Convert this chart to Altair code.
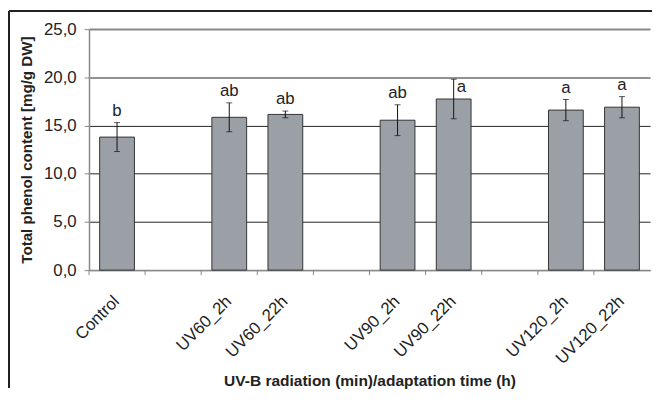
import altair as alt
import pandas as pd

categories = ["Control", " ", "UV60_2h", "UV60_22h", "  ", "UV90_2h", "UV90_22h", "   ", "UV120_2h", "UV120_22h"]
means = [13.8, None, 15.85, 16.15, None, 15.55, 17.75, None, 16.6, 16.9]
errors = [1.5, None, 1.5, 0.35, None, 1.6, 2.05, None, 1.1, 1.1]
letters = ["b", None, "ab", "ab", None, "ab", "a", None, "a", "a"]
y_ticks = [0, 5, 10, 15, 20, 25]

df = pd.DataFrame({"cat": categories, "mean": means, "err": errors, "letter": letters})
df["lo"] = df["mean"] - df["err"]
df["hi"] = df["mean"] + df["err"]

W, H = 568, 244
BOTTOM = 119
FONT = "Liberation Sans"

xscale = alt.Scale(domain=categories, paddingInner=0, paddingOuter=0)
yscale = alt.Scale(domain=[0, 25], nice=False)

x_enc = alt.X("cat:N", sort=categories, scale=xscale,
              title="UV-B radiation (min)/adaptation time (h)",
              axis=alt.Axis(labelAngle=-45, labelAlign="right", labelBaseline="top",
                            labelFontSize=17, labelFont=FONT, labelColor="#222",
                            labelPadding=23, labelOffset=-6, ticks=False, tickSize=0,
                            domainColor="#888", domainWidth=1.5,
                            titleFont=FONT, titleFontSize=15.7, titleFontWeight="bold",
                            titleColor="#222", titlePadding=7))
y_enc = alt.Y("mean:Q", scale=yscale,
              title="Total phenol content [mg/g DW]",
              axis=alt.Axis(values=y_ticks,
                            labelExpr="replace(format(datum.value, '.1f'), '.', ',')",
                            labelFontSize=17, labelFont=FONT, labelColor="#222",
                            labelPadding=8, tickSize=5, tickColor="#888",
                            domainColor="#888", domainWidth=1.5,
                            grid=True,
                            gridColor={"condition": {"test": "datum.value === 25", "value": "#888"}, "value": "#222"},
                            gridWidth={"condition": {"test": "datum.value === 25", "value": 2}, "value": 1},
                            titleFont=FONT, titleFontSize=15.3, titleFontWeight="bold",
                            titleColor="#222", titlePadding=9))

base = alt.Chart(df)
valid = base.transform_filter("isValid(datum.mean)")

bars = valid.mark_bar(color="#9aa0a6", stroke="#333", strokeWidth=1,
                      width=alt.RelativeBandSize(0.62)).encode(x=x_enc, y=y_enc)

err_rule = valid.mark_rule(color="#111", strokeWidth=1).encode(
    x=alt.X("cat:N", sort=categories, scale=xscale),
    y=alt.Y("lo:Q", scale=yscale), y2="hi:Q")
err_caps = valid.mark_tick(color="#111", size=6, thickness=1).encode(
    x=alt.X("cat:N", sort=categories, scale=xscale),
    y=alt.Y("lo:Q", scale=yscale))
err_caps_hi = valid.mark_tick(color="#111", size=6, thickness=1).encode(
    x=alt.X("cat:N", sort=categories, scale=xscale),
    y=alt.Y("hi:Q", scale=yscale))

letters_main = valid.transform_filter("datum.cat !== 'UV90_22h'").mark_text(
    font=FONT, fontSize=17, color="#222", baseline="alphabetic", dy=-7).encode(
    x=alt.X("cat:N", sort=categories, scale=xscale),
    y=alt.Y("hi:Q", scale=yscale), text="letter:N")
letters_side = valid.transform_filter("datum.cat === 'UV90_22h'").mark_text(
    font=FONT, fontSize=17, color="#222", baseline="alphabetic", align="left", dx=3, dy=13).encode(
    x=alt.X("cat:N", sort=categories, scale=xscale),
    y=alt.Y("hi:Q", scale=yscale), text="letter:N")

xticks = base.mark_rule(color="#888", strokeWidth=1).encode(
    x=alt.X("cat:N", sort=categories, scale=xscale, bandPosition=0),
    y=alt.value(H), y2=alt.value(H + 5))

frame_left = base.mark_rule(color="#222", strokeWidth=1.5).encode(
    x=alt.value(-81), y=alt.value(-18), y2=alt.value(H + BOTTOM))
frame_top = base.mark_rule(color="#222", strokeWidth=1.5).encode(
    x=alt.value(-81), x2=alt.value(W + 2), y=alt.value(-18))

chart = alt.layer(bars, err_rule, err_caps, err_caps_hi, letters_main, letters_side,
                  xticks, frame_left, frame_top).properties(
    width=W, height=H, autosize="none",
    padding={"left": 82, "top": 19, "right": 2, "bottom": BOTTOM},
).configure_view(stroke=None)

chart.save("out.html", embed_options={"renderer": "svg", "actions": False})
